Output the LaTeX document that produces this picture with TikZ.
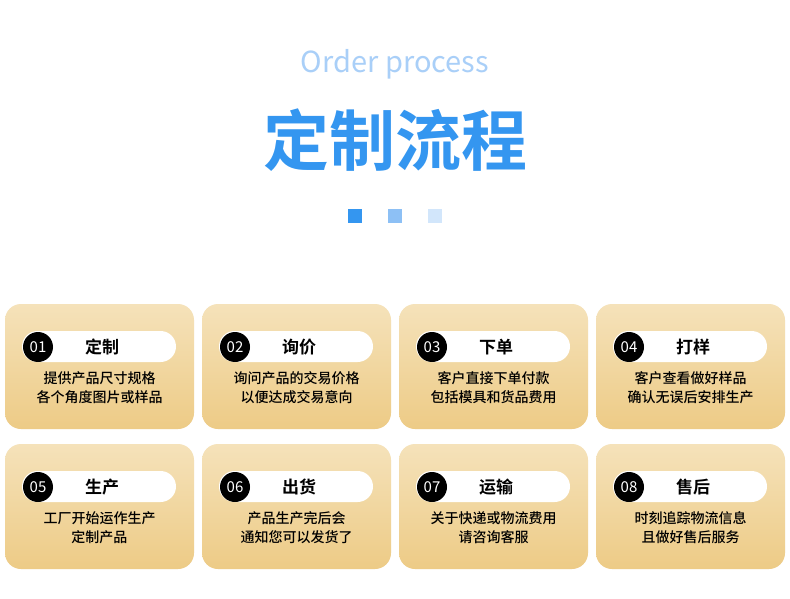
\documentclass[tikz,border=0pt]{standalone}
\usepackage{fontspec}
\setmainfont{Noto Sans CJK SC}
\newfontfamily\cjkb{Noto Sans CJK SC Bold}
\newfontfamily\cjkm{Noto Sans CJK SC Medium}
\definecolor{bluemain}{HTML}{3496F0}
\definecolor{bluelight}{HTML}{A9CFF8}
\definecolor{bluepale}{HTML}{D2E6FB}
\definecolor{bluemid}{HTML}{8DC0F5}
\definecolor{cardtop}{HTML}{F5E2BA}
\definecolor{cardbot}{HTML}{EDCB86}
\tikzset{
 card/.style={rounded corners=16pt, top color=cardtop, bottom color=cardbot, draw=none},
 pill/.style={fill=white, rounded corners=15.5pt, draw=none},
 numc/.style={circle, fill=black, minimum size=30pt, inner sep=0pt, text=white, font=\fontsize{15}{15}\selectfont},
 ttl/.style={font=\cjkb\fontsize{17}{17}\selectfont},
 desc/.style={font=\cjkm\fontsize{14}{19}\selectfont, align=center},
}
\begin{document}
\begin{tikzpicture}[x=1pt,y=-1pt]
\path[fill=white] (0,0) rectangle (790,599);
\useasboundingbox (0,0) rectangle (790,599);
\node[text=bluelight, font=\fontsize{29}{29}\selectfont] (en) at (395,64) {Order process};
\node[text=bluemain, font=\cjkb\fontsize{66}{66}\selectfont] (zh) at (395,140) {定制流程};
\node[fill=bluemain, minimum size=14pt, inner sep=0pt] (s1) at (355,216) {};
\node[fill=bluemid, minimum size=14pt, inner sep=0pt] (s2) at (395,216) {};
\node[fill=bluepale, minimum size=14pt, inner sep=0pt] (s3) at (435,216) {};
\foreach \i/\num/\t/\a/\b [count=\k from 0] in {
 0/01/定制/提供产品尺寸规格/各个角度图片或样品,
 1/02/询价/询问产品的交易价格/以便达成交易意向,
 2/03/下单/客户直接下单付款/包括模具和货品费用,
 3/04/打样/客户查看做好样品/确认无误后安排生产,
 4/05/生产/工厂开始运作生产/定制产品,
 5/06/出货/产品生产完后会/通知您可以发货了,
 6/07/运输/关于快递或物流费用/请咨询客服,
 7/08/售后/时刻追踪物流信息/且做好售后服务}{
 \pgfmathsetmacro\cx{5+197*mod(\i,4)}
 \pgfmathsetmacro\cy{304+140*int(\i/4)}
 \path[card] (\cx,\cy) rectangle ++(189,125);
 \path[pill] (\cx+17,\cy+27) rectangle ++(154,31);
 \node[numc] (n\num) at (\cx+33,\cy+43) {\num};
 \node[ttl] (t\num) at (\cx+97,\cy+43) {\t};
 \node[desc] (d\num) at (\cx+94.5,\cy+84) {\a\\\b};
}
\end{tikzpicture}
\end{document}
